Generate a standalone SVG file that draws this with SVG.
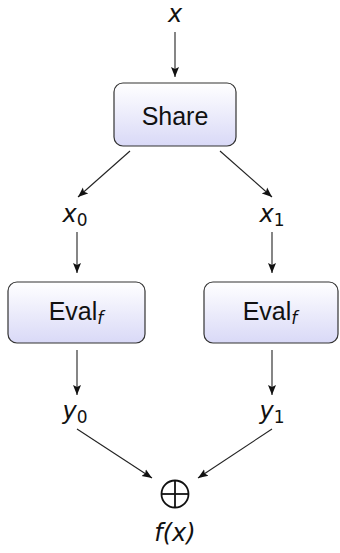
<svg xmlns="http://www.w3.org/2000/svg" width="340" height="553" viewBox="0 0 340 553">
  <defs>
    <linearGradient id="boxFill" x1="0" y1="0" x2="0" y2="1">
      <stop offset="0" stop-color="#ffffff"/>
      <stop offset="1" stop-color="#d9d9f7"/>
    </linearGradient>
    <marker id="arrow" viewBox="0 0 10 10" refX="10" refY="5" markerWidth="10" markerHeight="10" markerUnits="userSpaceOnUse" orient="auto">
      <path d="M0,1 L10,5 L0,9 L2,5 Z" fill="#111"/>
    </marker>
  </defs>
  <style>
    .box { fill: url(#boxFill); stroke: #333; stroke-width: 1.2; }
    .lbl { font-family: "Liberation Sans", Arial, sans-serif; font-size: 25px; fill: #111; text-anchor: middle; }
    .math { font-family: "DejaVu Sans", sans-serif; font-size: 24px; font-style: italic; fill: #111; text-anchor: middle; }
    .sub { font-family: "DejaVu Sans", sans-serif; font-size: 17px; font-style: normal; }
    .subi { font-family: "DejaVu Sans", sans-serif; font-size: 17px; font-style: italic; }
    .edge { stroke: #222; stroke-width: 1.1; fill: none; marker-end: url(#arrow); }
  </style>

  <g id="connectors">
    <line class="edge" x1="175" y1="32" x2="175" y2="77"/>
    <line class="edge" x1="130" y1="151" x2="78" y2="197"/>
    <line class="edge" x1="220" y1="151" x2="272" y2="197"/>
    <line class="edge" x1="77" y1="232" x2="77" y2="273"/>
    <line class="edge" x1="272" y1="232" x2="272" y2="273"/>
    <line class="edge" x1="77" y1="350" x2="77" y2="395"/>
    <line class="edge" x1="272" y1="350" x2="272" y2="395"/>
    <line class="edge" x1="77" y1="429" x2="152" y2="478"/>
    <line class="edge" x1="272" y1="429" x2="198" y2="478"/>
  </g>

  <g id="input-x">
    <text class="math" x="175" y="22">x</text>
  </g>

  <g id="share">
    <rect class="box" x="114" y="83" width="122" height="63" rx="9"/>
    <text class="lbl" x="175" y="125">Share</text>
  </g>

  <g id="x0">
    <text class="math" x="75" y="222">x<tspan class="sub" dy="4">0</tspan></text>
  </g>
  <g id="x1">
    <text class="math" x="272" y="222">x<tspan class="sub" dy="4">1</tspan></text>
  </g>

  <g id="eval0">
    <rect class="box" x="8" y="282" width="137" height="61" rx="9"/>
    <text class="lbl" x="76" y="320">Eval<tspan class="subi" dy="4">f</tspan></text>
  </g>
  <g id="eval1">
    <rect class="box" x="204" y="282" width="134" height="61" rx="9"/>
    <text class="lbl" x="270" y="320">Eval<tspan class="subi" dy="4">f</tspan></text>
  </g>

  <g id="y0">
    <text class="math" x="75" y="419">y<tspan class="sub" dy="4">0</tspan></text>
  </g>
  <g id="y1">
    <text class="math" x="272" y="419">y<tspan class="sub" dy="4">1</tspan></text>
  </g>

  <g id="xor">
    <circle cx="175" cy="494" r="13.5" fill="none" stroke="#111" stroke-width="1.8"/>
    <line x1="161.5" y1="494" x2="188.5" y2="494" stroke="#111" stroke-width="1.8"/>
    <line x1="175" y1="480.5" x2="175" y2="507.5" stroke="#111" stroke-width="1.8"/>
  </g>

  <g id="output">
    <text class="math" x="175" y="541">f(x)</text>
  </g>
</svg>
